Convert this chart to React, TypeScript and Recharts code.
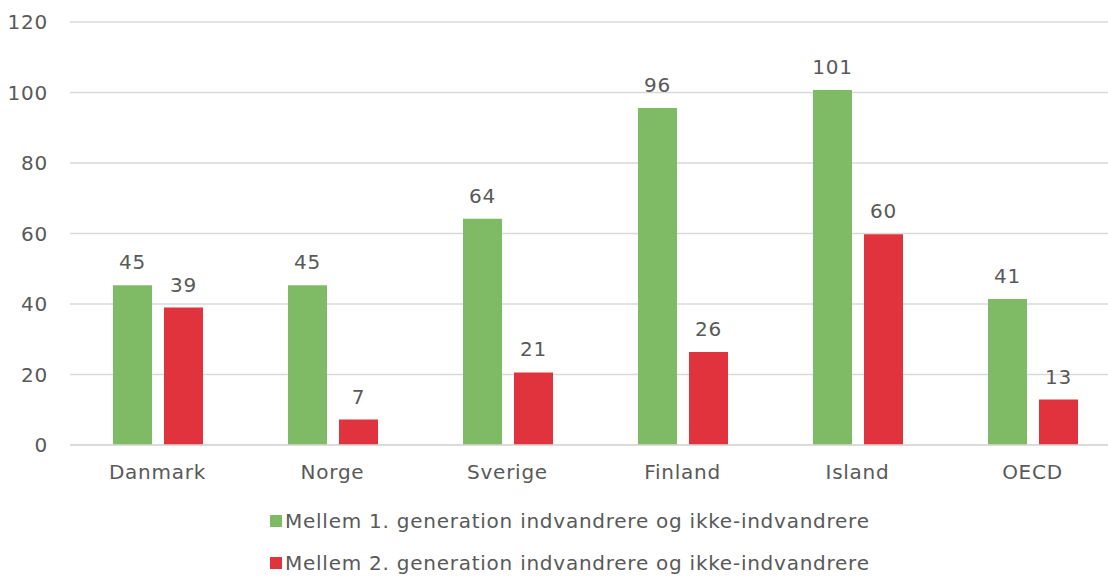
import { BarChart, Bar, XAxis, YAxis, CartesianGrid, Legend, LabelList } from 'recharts';

const countries = ['Danmark', 'Norge', 'Sverige', 'Finland', 'Island', 'OECD'];
const firstGen = [45.3, 45.3, 64.2, 95.6, 100.7, 41.4];
const secondGen = [39.0, 7.2, 20.6, 26.4, 59.8, 12.9];
const yTicks = [0, 20, 40, 60, 80, 100, 120];

const seriesNames = [
    'Mellem 1. generation indvandrere og ikke-indvandrere',
    'Mellem 2. generation indvandrere og ikke-indvandrere',
];
const colors = ['#7FBA64', '#E1333E'];

const data = countries.map((c, i) => ({ name: c, first: firstGen[i], second: secondGen[i] }));

const font = '"DejaVu Sans", Verdana, sans-serif';
const textColor = '#595959';
const spacing = 0.75;

function LegendBox({ payload }: any) {
    return (
        <div style={{ height: 76, paddingLeft: 270, fontFamily: font, fontSize: 20, color: textColor, letterSpacing: spacing }}>
            {(payload || []).map((p: any, i: number) => (
                <div key={`leg-${i}`} style={{ height: 42, display: 'flex', alignItems: 'center' }}>
                    <span style={{ display: 'inline-block', width: 12, height: 12, background: p.color, marginRight: 3 }} />
                    <span>{p.value}</span>
                </div>
            ))}
        </div>
    );
}

export default function App() {
    const tickStyle = { fill: textColor, fontSize: 20, fontFamily: font, letterSpacing: spacing };
    return (
        <div style={{ position: 'fixed', left: 0, top: 0, width: 1108, height: 576, background: '#fff', overflow: 'hidden' }}>
            <BarChart
                width={1120}
                height={576}
                data={data}
                margin={{ top: 22, right: 0, left: 0, bottom: 0 }}
                barCategoryGap="24.3%"
                barGap={12}
            >
                <CartesianGrid vertical={false} stroke="#D9D9D9" strokeWidth={1.5} />
                <XAxis
                    dataKey="name"
                    height={55}
                    axisLine={{ stroke: '#D9D9D9', strokeWidth: 1.5 }}
                    tickLine={false}
                    tickSize={0}
                    tickMargin={20}
                    tick={tickStyle}
                />
                <YAxis
                    width={70}
                    domain={[0, 120]}
                    ticks={yTicks}
                    axisLine={false}
                    tickLine={false}
                    tickSize={0}
                    tickMargin={22}
                    tick={tickStyle}
                />
                <Legend verticalAlign="bottom" content={<LegendBox />} wrapperStyle={{ left: 0, width: 1108 }} />
                <Bar dataKey="first" name={seriesNames[0]} fill={colors[0]} barSize={39} isAnimationActive={false}>
                    <LabelList
                        dataKey="first"
                        position="top"
                        offset={16}
                        formatter={(v: any) => Math.round(v)}
                        style={tickStyle}
                    />
                </Bar>
                <Bar dataKey="second" name={seriesNames[1]} fill={colors[1]} barSize={39} isAnimationActive={false}>
                    <LabelList
                        dataKey="second"
                        position="top"
                        offset={16}
                        formatter={(v: any) => Math.round(v)}
                        style={tickStyle}
                    />
                </Bar>
            </BarChart>
        </div>
    );
}
